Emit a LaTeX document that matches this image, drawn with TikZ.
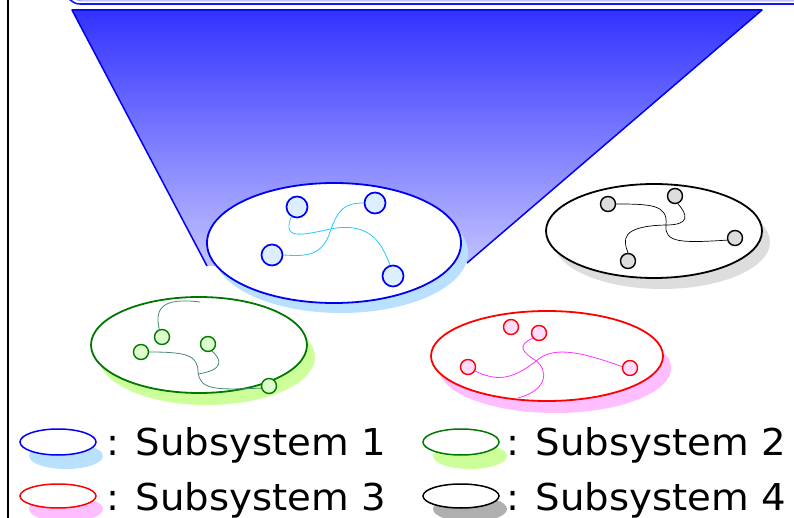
\documentclass[tikz,border=0pt]{standalone}
\usepackage{fontspec}
\setmainfont{DejaVu Sans}
\newfontfamily\legfont{DejaVu Sans}[FakeStretch=1.045]
\definecolor{trapTop}{RGB}{50,50,255}
\definecolor{trapBot}{RGB}{195,195,255}
\definecolor{sOneLine}{RGB}{0,0,240}
\definecolor{sOneShadow}{RGB}{185,225,255}
\definecolor{sOneFill}{RGB}{220,238,255}
\definecolor{sOneCurve}{RGB}{40,200,255}
\definecolor{sTwoLine}{RGB}{0,120,0}
\definecolor{sTwoShadow}{RGB}{204,255,153}
\definecolor{sTwoFill}{RGB}{221,255,204}
\definecolor{sTwoCurve}{RGB}{70,140,110}
\definecolor{sThreeLine}{RGB}{255,0,0}
\definecolor{sThreeShadow}{RGB}{255,190,255}
\definecolor{sThreeFill}{RGB}{255,221,255}
\definecolor{sThreeCurve}{RGB}{255,50,255}
\definecolor{sFourLine}{RGB}{0,0,0}
\definecolor{sFourShadow}{RGB}{221,221,221}
\definecolor{sFourLegShadow}{RGB}{175,175,175}
\definecolor{sFourFill}{RGB}{221,221,221}
\definecolor{topBar}{RGB}{20,20,255}
\definecolor{topBarLight}{RGB}{160,160,255}
\tikzset{
  vtx/.style={circle, draw, line width=1.4pt, inner sep=0pt, minimum size=15pt},
  bigvtx/.style={vtx, minimum size=21pt, line width=1.7pt},
  vOne/.style={bigvtx, draw=sOneLine, fill=sOneFill},
  vTwo/.style={vtx, draw=sTwoLine, fill=sTwoFill},
  vThree/.style={vtx, draw=sThreeLine, fill=sThreeFill},
  vFour/.style={vtx, draw=sFourLine, fill=sFourFill},
  cOne/.style={draw=sOneCurve, line width=0.8pt},
  cTwo/.style={draw=sTwoCurve, line width=0.8pt},
  cThree/.style={draw=sThreeCurve, line width=0.8pt},
  cFour/.style={draw=black, line width=0.7pt},
  ring/.style={line width=1.8pt, fill=white},
  legring/.style={line width=1.5pt, fill=white},
  legtext/.style={anchor=base west, inner sep=0pt, font=\legfont\fontsize{37}{40}\selectfont}
}
\begin{document}
\begin{tikzpicture}[x=1pt,y=-1pt]
\useasboundingbox (0,0) rectangle (794,518);
\clip (0,0) rectangle (794,518);
% top bar
\draw[topBarLight, line width=1pt, rounded corners=12pt] (70,-40) -- (70,1) -- (810,1);
\draw[topBar, line width=1.6pt, rounded corners=14pt] (66,-40) -- (66,4) -- (810,4);
% left frame line
\draw[black, line width=1.2pt] (8,-5) -- (8,525);
% trapezoid (zoom cone)
\shade[top color=trapTop, bottom color=trapBot] (72,10) -- (762,10) -- (467,263) -- (207,266) -- cycle;
\draw[sOneLine, line width=1.5pt, line join=round] (207,266) -- (72,10) -- (762,10) -- (467,263);
% shadows
\fill[sOneShadow] (341,253) ellipse [x radius=127, y radius=60];
\fill[sFourShadow] (662,242) ellipse [x radius=108, y radius=47];
\fill[sTwoShadow] (207,357) ellipse [x radius=108, y radius=48];
\fill[sThreeShadow] (555,368) ellipse [x radius=116, y radius=45];
% subsystem rings
\draw[ring, draw=sOneLine] (334,243) ellipse [x radius=127, y radius=60];
\draw[ring, draw=sFourLine] (654,231) ellipse [x radius=108, y radius=47];
\draw[ring, draw=sTwoLine] (199,345) ellipse [x radius=108, y radius=48];
\draw[ring, draw=sThreeLine] (547,356) ellipse [x radius=116, y radius=45];
% subsystem 1 nodes
\node[vOne] (a1) at (297,207) {};
\node[vOne] (a2) at (375,203) {};
\node[vOne] (a3) at (272,255) {};
\node[vOne] (a4) at (393,276) {};
% subsystem 4 nodes
\node[vFour] (d1) at (608,204) {};
\node[vFour] (d2) at (675,196) {};
\node[vFour] (d3) at (735,238) {};
\node[vFour] (d4) at (628,261) {};
% subsystem 2 nodes
\node[vTwo] (b1) at (162,337) {};
\node[vTwo] (b2) at (208,344) {};
\node[vTwo] (b3) at (141,352) {};
\node[vTwo] (b4) at (269,386) {};
% subsystem 3 nodes
\node[vThree] (c1) at (511,327) {};
\node[vThree] (c2) at (539,333) {};
\node[vThree] (c3) at (468,367) {};
\node[vThree] (c4) at (630,368) {};
% free ends
\coordinate (g0) at (200,302);
\coordinate (r0) at (518,398);
% curves subsystem 1
\path[cOne] (a1.240) .. controls (284,236) and (292,238) .. (330,229) .. controls (372,221) and (382,245) .. (a4.105);
\path[cOne] (a3.east) .. controls (302,256) and (322,258) .. (330,232) .. controls (338,208) and (346,203) .. (a2.west);
% curves subsystem 4
\path[cFour] (d1.east) .. controls (652,204) and (668,205) .. (666,225) .. controls (664,243) and (682,243) .. (d3.195);
\path[cFour] (d2.290) .. controls (688,215) and (690,225) .. (666,225) .. controls (620,226) and (623,240) .. (d4.north);
% curves subsystem 2
\path[cTwo] (g0) .. controls (160,297) and (155,310) .. (b1.110);
\path[cTwo] (b3.east) .. controls (186,352) and (198,355) .. (198,372) .. controls (200,390) and (215,390) .. (b4.195);
\path[cTwo] (b2.300) .. controls (222,360) and (224,370) .. (198,374);
% curves subsystem 3
\path[cThree] (c3.330) .. controls (500,383) and (515,378) .. (540,358) .. controls (556,347) and (582,352) .. (c4.170);
\path[cThree] (c2.220) .. controls (517,345) and (522,352) .. (535,360) .. controls (549,370) and (548,390) .. (r0);
% legend
\fill[sOneShadow] (66,456) ellipse [x radius=37, y radius=13];
\draw[legring, draw=sOneLine] (58,442) ellipse [x radius=38, y radius=13];
\fill[sThreeShadow] (66,509) ellipse [x radius=37, y radius=13];
\draw[legring, draw=sThreeLine] (58,496) ellipse [x radius=38, y radius=12];
\fill[sTwoShadow] (470,456) ellipse [x radius=37, y radius=13];
\draw[legring, draw=sTwoLine] (461,442) ellipse [x radius=38, y radius=13];
\fill[sFourLegShadow] (470,509) ellipse [x radius=37, y radius=13];
\draw[legring, draw=sFourLine] (461,496) ellipse [x radius=38, y radius=12];
\node[legtext] (l1) at (106,455) {: Subsystem 1};
\node[legtext] (l3) at (106,510) {: Subsystem 3};
\node[legtext] (l2) at (506,455) {: Subsystem 2};
\node[legtext] (l4) at (506,510) {: Subsystem 4};
\end{tikzpicture}
\end{document}
